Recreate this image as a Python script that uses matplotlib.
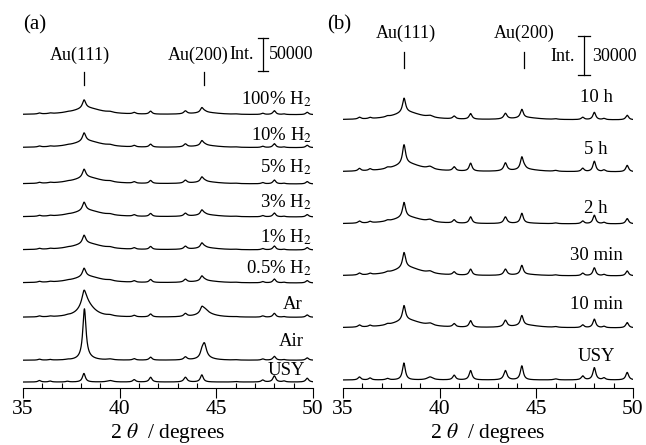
import numpy as np
import matplotlib
matplotlib.use('Agg')
import matplotlib.pyplot as plt
from matplotlib.ticker import MultipleLocator

plt.rcParams['font.family'] = ['Liberation Serif', 'DejaVu Serif']
plt.rcParams['mathtext.fontset'] = 'stix'

two_theta = np.linspace(35, 50, 3001)

# USY zeolite reflections (position / deg, half width / deg, counts)
usy_pos = [35.85, 36.4, 37.3, 38.15, 39.5, 40.75, 41.6, 43.4, 44.25, 46.0, 47.4, 48.0, 48.5, 49.7]
usy_hw = [0.09, 0.09, 0.1, 0.09, 0.18, 0.09, 0.09, 0.1, 0.09, 0.12, 0.09, 0.09, 0.09, 0.09]
usy_counts = [2300, 1500, 1100, 13000, 2300, 3600, 7200, 7200, 10800, 800, 3000, 9400, 1500, 5800]

au111_pos = 38.18
au200_pos = 44.38

# (a) reduction atmosphere
labels_a = ['100% H$_2$', '10% H$_2$', '5% H$_2$', '3% H$_2$', '1% H$_2$', '0.5% H$_2$', 'Ar', 'Air', 'USY']
offset_a = [405000, 355000, 300000, 250000, 200000, 150000, 98000, 33000, 0]
zeo_a = [0.62, 0.62, 0.62, 0.62, 0.62, 0.62, 0.62, 0.62, 1.0]
au111_a = [5000, 5000, 5000, 5000, 5000, 5000, 19000, 68000, 0]
au111_hw_a = [0.12, 0.12, 0.12, 0.12, 0.12, 0.12, 0.2, 0.1, 0.1]
au111_broad_a = [10000, 10000, 10000, 10000, 10000, 10000, 16000, 3000, 0]
au111_bw_a = [0.9, 0.9, 0.9, 0.9, 0.9, 0.9, 0.5, 0.4, 0.4]
au200_a = [2000, 2000, 2000, 2000, 2000, 2000, 8000, 22000, 0]
au200_hw_a = [0.15, 0.15, 0.15, 0.15, 0.15, 0.15, 0.22, 0.13, 0.1]
au200_broad_a = [3000, 3000, 3000, 3000, 3000, 3000, 4500, 2500, 0]
au200_bw_a = [0.8, 0.8, 0.8, 0.8, 0.8, 0.8, 0.6, 0.5, 0.5]
label_x_a = [49.95, 49.95, 49.95, 49.95, 49.95, 49.95, 49.45, 49.5, 49.6]
label_y_a = [429000, 374000, 326000, 273000, 220000, 173000, 118000, 61000, 18000]

# (b) reduction time
labels_b = ['10 h', '5 h', '2 h', '30 min', '10 min', 'USY']
offset_b = [200000, 160000, 120000, 80000, 40000, 0]
zeo_b = [0.6, 0.85, 0.7, 0.65, 0.7, 1.0]
au111_b = [3500, 4000, 2500, 3500, 2500, 0]
au111_broad_b = [5800, 6300, 5300, 6500, 6000, 0]
au200_b = [0, 1500, 0, 0, 0, 0]
au200_broad_b = [1600, 1700, 500, 1000, 2000, 0]
label_y_b = [217000, 177000, 132000, 96000, 58000, 18000]


def lor(c, h, w):
    return h * w**2 / ((two_theta - c)**2 + w**2)


def pattern(off, z, a1, a1w, b1, b1w, a2, a2w, b2, b2w):
    y = off + z * sum(lor(c, h, w) for c, h, w in zip(usy_pos, usy_counts, usy_hw))
    y = y + lor(au111_pos, a1, a1w) + lor(au111_pos + 0.15, b1, b1w)
    y = y + lor(au200_pos, a2, a2w) + lor(au200_pos + 0.1, b2, b2w)
    return y


fig = plt.figure(figsize=(6.46, 4.45), dpi=100)
ax_a = fig.add_axes([23/646, 57/445, 290/646, 388/445])
ax_b = fig.add_axes([343/646, 57/445, 290/646, 388/445])

for ax in (ax_a, ax_b):
    ax.set_xlim(35, 50)
    for s in ('left', 'right', 'top'):
        ax.spines[s].set_visible(False)
    ax.spines['bottom'].set_linewidth(0.8)
    ax.set_yticks([])
    ax.xaxis.set_major_locator(MultipleLocator(5))
    ax.xaxis.set_minor_locator(MultipleLocator(1))
    ax.tick_params(axis='x', which='major', direction='out', length=7, width=0.8,
                   labelsize=15.5, pad=2)
    ax.tick_params(axis='x', which='minor', direction='in', length=3.5, width=0.8)
    ax.set_xlabel('2 $\\theta$  / degrees', fontsize=15.5, labelpad=1)
    ax.patch.set_visible(False)

# panel (a)
ax_a.set_ylim(-9000, -9000 + 388 * 1515)
for i, lab in enumerate(labels_a):
    y = pattern(offset_a[i], zeo_a[i], au111_a[i], au111_hw_a[i], au111_broad_a[i], au111_bw_a[i],
                au200_a[i], au200_hw_a[i], au200_broad_a[i], au200_bw_a[i])
    ax_a.plot(two_theta, y, color='black', lw=0.9)
    ax_a.text(label_x_a[i], label_y_a[i], lab, ha='right', va='center', fontsize=13.5)

ax_a.text(37.93, 495500, 'Au(111)', ha='center', va='center', fontsize=13)
ax_a.text(44.05, 495500, 'Au(200)', ha='center', va='center', fontsize=13)
ax_a.plot([38.16, 38.16], [450000, 470000], color='black', lw=0.9)
ax_a.plot([44.36, 44.36], [450000, 470000], color='black', lw=0.9)
ax_a.text(46.95, 495500, 'Int.', ha='right', va='center', fontsize=13)
ax_a.plot([47.41, 47.41], [471300, 521300], color='black', lw=0.9, clip_on=False)
for yb in (471300, 521300):
    ax_a.plot([47.15, 47.67], [yb, yb], color='black', lw=0.9, clip_on=False)
ax_a.text(47.72, 495500, '50000', ha='left', va='center', fontsize=13)

# panel (b)
ax_b.set_ylim(-6150, -6150 + 388 * 769)
for i, lab in enumerate(labels_b):
    y = pattern(offset_b[i], zeo_b[i], au111_b[i], 0.1, au111_broad_b[i], 0.9,
                au200_b[i], 0.12, au200_broad_b[i], 0.8)
    ax_b.plot(two_theta, y, color='black', lw=0.9)
    ax_b.text(48.09, label_y_b[i], lab, ha='center', va='center', fontsize=13.5)

ax_b.text(38.26, 266800, 'Au(111)', ha='center', va='center', fontsize=13)
ax_b.text(44.36, 266800, 'Au(200)', ha='center', va='center', fontsize=13)
ax_b.plot([38.16, 38.16], [240000, 252000], color='black', lw=0.9)
ax_b.plot([44.36, 44.36], [240000, 252000], color='black', lw=0.9)
ax_b.text(47.0, 248400, 'Int.', ha='right', va='center', fontsize=13)
ax_b.plot([47.47, 47.47], [234500, 264500], color='black', lw=0.9, clip_on=False)
for yb in (234500, 264500):
    ax_b.plot([47.16, 47.78], [yb, yb], color='black', lw=0.9, clip_on=False)
ax_b.text(47.88, 248400, '30000', ha='left', va='center', fontsize=13)

fig.text(23/646, 1 - 25/445, '(a)', ha='left', va='center', fontsize=15)
fig.text(327/646, 1 - 25/445, '(b)', ha='left', va='center', fontsize=15)

fig.savefig('out.png', dpi=100)
